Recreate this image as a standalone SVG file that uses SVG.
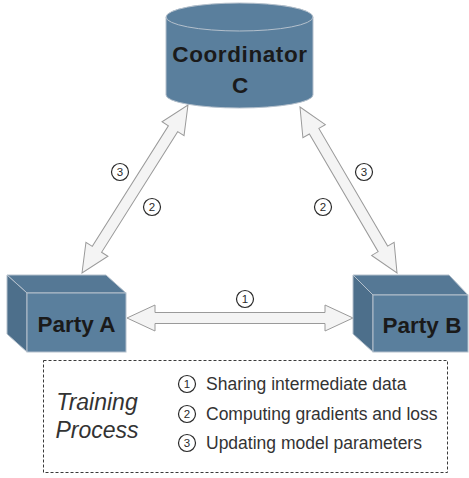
<svg xmlns="http://www.w3.org/2000/svg" width="469" height="478" viewBox="0 0 469 478">
  <style>
    .node-fill { fill: #5a7f9d; stroke: #b4c0cc; stroke-width: 1; }
    .face-top { fill: #557895; stroke: #b4c0cc; stroke-width: 1; }
    .face-side { fill: #4d6f8b; stroke: #b4c0cc; stroke-width: 1; }
    .node-label { font-family: "Liberation Sans", Arial, sans-serif; font-weight: bold; font-size: 22.5px; fill: #1a1a1a; text-anchor: middle; }
    .arrow { fill: #f4f4f4; stroke: #9a9a9a; stroke-width: 1; stroke-linejoin: miter; }
    .num-circle { fill: #ffffff; stroke: #2a2a2a; stroke-width: 1.2; }
    .num-text { font-family: "Liberation Sans", Arial, sans-serif; font-size: 11.5px; fill: #2a2a2a; text-anchor: middle; }
    .legend-text { font-family: "Liberation Sans", Arial, sans-serif; font-size: 17.5px; fill: #333333; }
    .legend-title { font-family: "Liberation Sans", Arial, sans-serif; font-size: 23px; font-style: italic; fill: #333333; text-anchor: middle; }
  </style>

  <!-- connectors: flat double-headed block arrows -->
  <g id="connectors">
    <!-- Party A <-> Party B -->
    <polygon class="arrow" transform="translate(127,318)" points="0,0 28,-13 28,-5.5 198,-5.5 198,-13 226,0 198,13 198,5.5 28,5.5 28,13"/>
    <!-- Party A <-> Coordinator -->
    <polygon class="arrow" transform="translate(82,273) rotate(-57.75)" points="0,0 28,-13 28,-5.5 170.6,-5.5 170.6,-13 198.6,0 170.6,13 170.6,5.5 28,5.5 28,13"/>
    <!-- Coordinator <-> Party B -->
    <polygon class="arrow" transform="translate(300,107) rotate(59.7)" points="0,0 28,-13 28,-5.5 164.3,-5.5 164.3,-13 192.3,0 164.3,13 164.3,5.5 28,5.5 28,13"/>

    <!-- step markers -->
    <g id="step-ab-1">
      <circle class="num-circle" cx="245" cy="299" r="8.5"/>
      <text class="num-text" x="245" y="303">1</text>
    </g>
    <g id="step-ac-3">
      <circle class="num-circle" cx="120" cy="172" r="8.5"/>
      <text class="num-text" x="120" y="176">3</text>
    </g>
    <g id="step-ac-2">
      <circle class="num-circle" cx="152" cy="207" r="8.5"/>
      <text class="num-text" x="152" y="211">2</text>
    </g>
    <g id="step-cb-3">
      <circle class="num-circle" cx="364" cy="172" r="8.5"/>
      <text class="num-text" x="364" y="176">3</text>
    </g>
    <g id="step-cb-2">
      <circle class="num-circle" cx="323" cy="207" r="8.5"/>
      <text class="num-text" x="323" y="211">2</text>
    </g>
  </g>

  <!-- Coordinator C: cylinder -->
  <g id="coordinator">
    <path class="node-fill" d="M166,17 L166,95 A73.5,13 0 0 0 313,95 L313,17 A73.5,14 0 0 0 166,17 Z"/>
    <path fill="none" stroke="#b4c0cc" stroke-width="1" d="M166,17 A73.5,14 0 0 0 313,17"/>
    <text class="node-label" x="240" y="62" letter-spacing="0.6">Coordinator</text>
    <text class="node-label" x="240" y="93">C</text>
  </g>

  <!-- Party A: box -->
  <g id="party-a">
    <polygon class="face-top" points="7,275 106,275 126,293 27,293"/>
    <polygon class="face-side" points="7,275 27,293 27,352 7,334"/>
    <rect class="node-fill" x="27" y="293" width="99" height="59"/>
    <text class="node-label" x="76.5" y="332">Party A</text>
  </g>

  <!-- Party B: box -->
  <g id="party-b">
    <polygon class="face-top" points="353,275 449,275 468,295 373,295"/>
    <polygon class="face-side" points="353,275 373,295 373,352 353,334"/>
    <rect class="node-fill" x="373" y="295" width="95" height="57"/>
    <text class="node-label" x="422" y="333">Party B</text>
  </g>

  <!-- legend -->
  <g id="legend">
    <rect x="43.5" y="360.5" width="404" height="112" fill="#ffffff" stroke="#3a3a3a" stroke-width="1" stroke-dasharray="3,2"/>
    <text class="legend-title" x="97" y="410">Training</text>
    <text class="legend-title" x="97" y="438">Process</text>

    <circle class="num-circle" cx="187" cy="384" r="8.5"/>
    <text class="num-text" x="187" y="388">1</text>
    <text class="legend-text" x="206" y="390">Sharing intermediate data</text>

    <circle class="num-circle" cx="187" cy="414" r="8.5"/>
    <text class="num-text" x="187" y="418">2</text>
    <text class="legend-text" x="206" y="420">Computing gradients and loss</text>

    <circle class="num-circle" cx="187" cy="443" r="8.5"/>
    <text class="num-text" x="187" y="447">3</text>
    <text class="legend-text" x="206" y="449">Updating model parameters</text>
  </g>
</svg>
